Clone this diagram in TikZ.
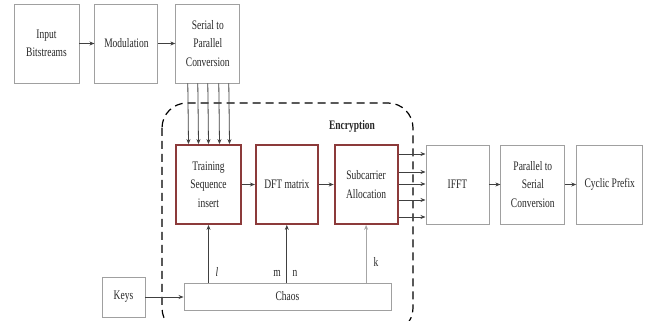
\documentclass[tikz,border=0pt]{standalone}
\usepackage{fontspec}
\setmainfont{Liberation Serif}[FakeStretch=0.73]
\usepackage{tikz}
\usetikzlibrary{arrows.meta,positioning,calc}
\definecolor{boxgray}{RGB}{160,160,160}
\definecolor{encred}{RGB}{140,58,58}

\begin{document}
\begin{tikzpicture}[x=1pt, y=1pt, every node/.style={font=\fontsize{13}{18.5}\selectfont, text=black!85},
  box/.style={draw=boxgray, line width=0.9pt, align=center, inner sep=1pt, minimum height=79pt},
  encbox/.style={draw=encred, line width=1.8pt, align=center, inner sep=1pt, minimum height=79pt},
  arr/.style={-{Stealth[length=5pt,width=4pt]}, line width=0.8pt, draw=black!75}]
\useasboundingbox (0,0) rectangle (648,321);
% top row
\node[box, minimum width=65pt] (inp) at (46.5,277.5) {Input\\Bitstreams};
\node[box, minimum width=63pt, right=15pt of inp] (mod) {Modulation};
\node[box, minimum width=64pt, right=17pt of mod] (s2p) {Serial to\\Parallel\\Conversion};
% encryption row
\node[encbox, minimum width=65pt] (train) at (208.5,136.5) {Training\\Sequence\\insert};
\node[encbox, minimum width=62pt, right=13pt of train] (dft) {DFT matrix};
\node[encbox, minimum width=63pt, right=15pt of dft] (sub) {Subcarrier\\Allocation};
\node[box, minimum width=63pt, right=27pt of sub] (ifft) {IFFT};
\node[box, minimum width=64pt, right=11pt of ifft] (p2s) {Parallel to\\Serial\\Conversion};
\node[box, minimum width=66pt, right=11pt of p2s] (cp) {Cyclic Prefix};
% keys and chaos
\node[box, minimum width=207pt, minimum height=27pt] (chaos) at (287.5,24.5) {Chaos};
\node[box, minimum width=43pt, minimum height=40pt] (keys) at (123.5,24) {Keys};
\node (lbll) at (217,49) {\itshape l};
\node (lblm) at (277,48) {m};
\node (lbln) at (295,48) {n};
\node (lblk) at (376,59) {k};
\node[font=\fontsize{13}{15}\selectfont\bfseries] (enc) at (352,195) {Encryption};
% dashed encryption block
\draw[dash pattern=on 8pt off 5pt, line width=1.2pt, rounded corners=25pt] (162,218) rectangle (413,-12);
% arrows
\draw[arr] (inp) -- (mod);
\draw[arr] (mod) -- (s2p);
\foreach \dx in {-20,-10,0,11,21}
  \draw[arr] ([xshift=\dx pt]s2p.south) -- ([xshift=\dx pt]train.north);
\draw[arr] (train) -- (dft);
\draw[arr] (dft) -- (sub);
\foreach \dy in {30.5,12.5,0.5,-15.5,-32.5}
  \draw[arr] ([yshift=\dy pt]sub.east) -- ([yshift=\dy pt]ifft.west);
\draw[arr] (ifft) -- (p2s);
\draw[arr] (p2s) -- (cp);
\draw[arr] (keys.east) -- (keys.east -| chaos.west);
\draw[arr] (chaos.north -| train.south) -- (train.south);
\draw[arr] (chaos.north -| dft.south) -- (dft.south);
\draw[arr, draw=black!35] (chaos.north -| sub.south) -- (sub.south);
\end{tikzpicture}
\end{document}
